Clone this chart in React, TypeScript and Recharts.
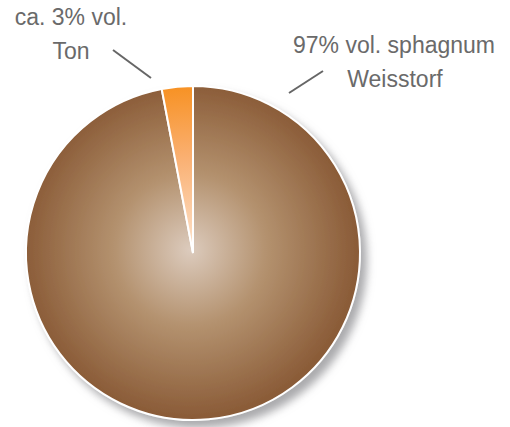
import { PieChart, Pie, Cell } from "recharts";

const names = ["Weisstorf", "Ton"];
const values = [97, 3];
const topLabels = ["ca. 3% vol.", "97% vol. sphagnum"];
const subLabels = ["Ton", "Weisstorf"];

const data = names.map((name, i) => ({ name, value: values[i] }));
const total = values.reduce((a, b) => a + b, 0);
// Ton sits just left of 12 o'clock, Weisstorf fills the rest
const start = 90 + (360 * values[1]) / total;

const font = "'Liberation Sans', Arial, Helvetica, sans-serif";

const App = () => {
  return (
    <div style={{ position: "absolute", left: 0, top: 0, background: "#fff" }}>
      <style>{`.pie-shadow { filter: url(#pieShadow); }`}</style>
      <PieChart width={510} height={427} margin={{ top: 0, right: 0, bottom: 0, left: 0 }}>
        <defs>
          <radialGradient id="brownGrad" gradientUnits="userSpaceOnUse" cx={190} cy={250} r={168}>
            <stop offset="0%" stopColor="#dccbbd" />
            <stop offset="45%" stopColor="#b4926f" />
            <stop offset="100%" stopColor="#8a5b37" />
          </radialGradient>
          <radialGradient id="orangeGrad" gradientUnits="userSpaceOnUse" cx={190} cy={250} r={168}>
            <stop offset="0%" stopColor="#fde3cc" />
            <stop offset="55%" stopColor="#fab072" />
            <stop offset="100%" stopColor="#f7901f" />
          </radialGradient>
          <filter id="pieShadow" x="-20%" y="-20%" width="140%" height="140%">
            <feDropShadow dx="6" dy="7" stdDeviation="4.5" floodColor="#8e8f92" floodOpacity="0.75" />
          </filter>
        </defs>
        <Pie
          data={data}
          dataKey="value"
          cx={193}
          cy={253}
          outerRadius={167}
          startAngle={start}
          endAngle={start + 360}
          stroke="#fff"
          strokeWidth={2}
          isAnimationActive={false}
        >
          {data.map((entry, index) => (
            <Cell
              key={`cell-${index}`}
              fill={entry.name === "Ton" ? "url(#orangeGrad)" : "url(#brownGrad)"}
              className={entry.name === "Ton" ? undefined : "pie-shadow"}
            />
          ))}
        </Pie>
        <g fontFamily={font} fontSize={23} fill="#6a6a6a" textAnchor="middle">
          <text x={71} y={25}>{topLabels[0]}</text>
          <text x={71} y={59}>{subLabels[0]}</text>
          <text x={394} y={53}>{topLabels[1]}</text>
          <text x={395} y={87}>{subLabels[1]}</text>
        </g>
        <line x1={113} y1={50} x2={151} y2={78} stroke="#666" strokeWidth={2} />
        <line x1={323} y1={71} x2={289} y2={93} stroke="#666" strokeWidth={2} />
      </PieChart>
    </div>
  );
};

export default App;
